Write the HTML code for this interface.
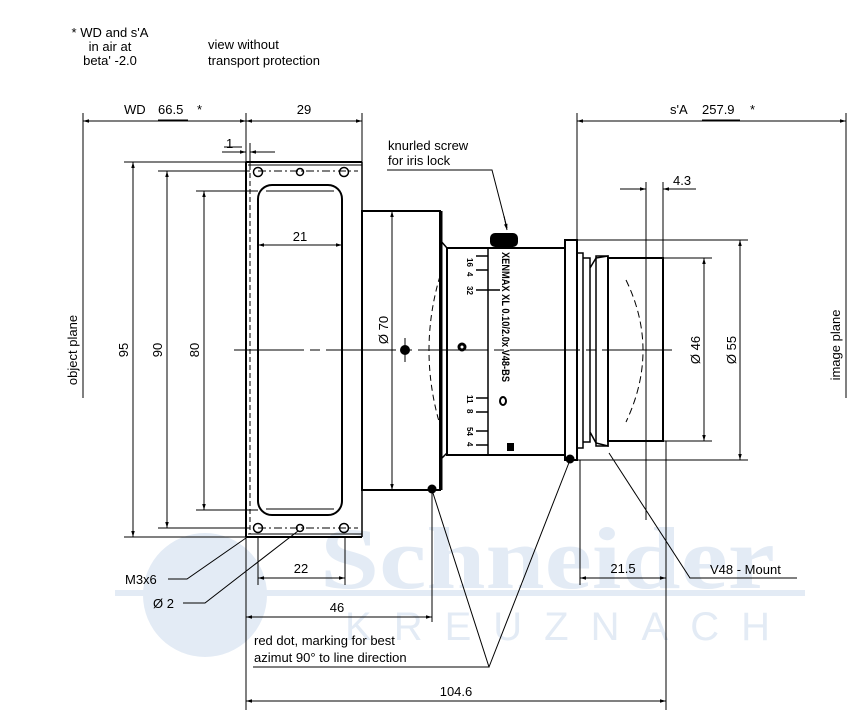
<!DOCTYPE html>
<html><head><meta charset="utf-8"><style>
html,body{margin:0;padding:0;background:#fff;}
svg{display:block;font-family:"Liberation Sans",Arial,sans-serif;}
</style></head><body>
<svg width="866" height="722" viewBox="0 0 866 722" xmlns="http://www.w3.org/2000/svg">
<defs>
<marker id="a" viewBox="0 0 12 10" refX="12" refY="5" markerWidth="11" markerHeight="5" orient="auto-start-reverse" markerUnits="userSpaceOnUse"><path d="M0,1.5 L12,5 L0,8.5z" fill="#000"/></marker>
</defs>
<!-- watermark -->
<g fill="#e3ebf5" stroke="none">
<circle cx="205" cy="595" r="62"/>
<rect x="115" y="590" width="690" height="6"/>
<text x="320" y="588" font-family="Liberation Serif,serif" font-weight="bold" font-size="88" textLength="455" lengthAdjust="spacingAndGlyphs">Schneider</text>
<text x="345" y="640" font-size="40" textLength="425" lengthAdjust="spacing">KREUZNACH</text>
</g>
<g font-size="13" fill="#000">
<text x="110" y="37" text-anchor="middle">* WD and s'A</text>
<text x="110" y="51" text-anchor="middle">in air at</text>
<text x="110" y="65" text-anchor="middle">beta' -2.0</text>
<text x="208" y="49">view without</text>
<text x="208" y="65">transport protection</text>
</g>
<g stroke="#000" fill="none" stroke-width="1">
<line x1="83" y1="113" x2="83" y2="398"/>
<line x1="846" y1="113" x2="846" y2="398"/>
<line x1="83" y1="121" x2="246" y2="121" marker-start="url(#a)" marker-end="url(#a)"/>
<line x1="246" y1="121" x2="362" y2="121" marker-start="url(#a)" marker-end="url(#a)"/>
<line x1="246" y1="113" x2="246" y2="710"/>
<line x1="362" y1="113" x2="362" y2="162"/>
<line x1="577" y1="113" x2="577" y2="240"/>
<line x1="577" y1="121" x2="846" y2="121" marker-start="url(#a)" marker-end="url(#a)"/>
<line x1="158" y1="120" x2="188" y2="120"/>
<line x1="702" y1="120" x2="740" y2="120"/>
<line x1="222" y1="152" x2="246" y2="152" marker-end="url(#a)"/>
<line x1="250" y1="152" x2="275" y2="152" marker-start="url(#a)"/>
<line x1="224" y1="147" x2="242" y2="147"/>
<line x1="250" y1="143" x2="250" y2="165"/>
<line x1="246" y1="162" x2="362" y2="162" stroke-width="2"/>
<line x1="248" y1="165" x2="362" y2="165"/>
<line x1="246" y1="162" x2="246" y2="537" stroke-width="2"/>
<line x1="362" y1="162" x2="362" y2="537" stroke-width="1.5"/>
<line x1="246" y1="537" x2="362" y2="537" stroke-width="2"/>
<line x1="248" y1="534" x2="362" y2="534"/>
<line x1="250" y1="165" x2="250" y2="534" stroke-dasharray="5,3"/>
<rect x="258" y="185" width="84" height="330" rx="14" stroke-width="2"/>
<line x1="266" y1="191" x2="334" y2="191"/>
<line x1="266" y1="509" x2="334" y2="509"/>
<line x1="258" y1="171" x2="358" y2="171" stroke-dasharray="8,3,2,3"/>
<line x1="258" y1="528" x2="358" y2="528" stroke-dasharray="8,3,2,3"/>
<circle cx="258" cy="172" r="4.5" stroke-width="1.5"/><circle cx="300" cy="172" r="3.5" stroke-width="1.5"/><circle cx="344" cy="172" r="4.5" stroke-width="1.5"/>
<circle cx="258" cy="528" r="4.5" stroke-width="1.5"/><circle cx="300" cy="528" r="3.5" stroke-width="1.5"/><circle cx="344" cy="528" r="4.5" stroke-width="1.5"/>
<line x1="258" y1="537" x2="258" y2="585"/>
<line x1="345" y1="537" x2="345" y2="585"/>
<line x1="258" y1="245" x2="342" y2="245" marker-start="url(#a)" marker-end="url(#a)"/>
<line x1="124" y1="162" x2="246" y2="162"/>
<line x1="124" y1="537" x2="246" y2="537"/>
<line x1="133" y1="162" x2="133" y2="537" marker-start="url(#a)" marker-end="url(#a)"/>
<line x1="158" y1="171" x2="250" y2="171"/>
<line x1="158" y1="528" x2="250" y2="528"/>
<line x1="167" y1="171" x2="167" y2="528" marker-start="url(#a)" marker-end="url(#a)"/>
<line x1="196" y1="191" x2="258" y2="191"/>
<line x1="196" y1="510" x2="258" y2="510"/>
<line x1="204" y1="191" x2="204" y2="510" marker-start="url(#a)" marker-end="url(#a)"/>
<rect x="362" y="211" width="78" height="279" stroke-width="2"/>
<line x1="392" y1="211" x2="392" y2="490" marker-start="url(#a)" marker-end="url(#a)"/>
<path d="M440 240 L447 248 M440 460 L447 453" stroke-width="1.5"/>
<line x1="441" y1="211" x2="441" y2="490" stroke-width="3"/>
<path d="M440 276 Q418 350 440 425" stroke-dasharray="6,4"/>
<rect x="447" y="248" width="118" height="207" stroke-width="2"/>
<line x1="488" y1="248" x2="488" y2="455" stroke-width="1.5"/>
<g stroke-width="1.5">
<line x1="476" y1="256" x2="488" y2="256"/><line x1="476" y1="270" x2="488" y2="270"/><line x1="476" y1="290" x2="500" y2="290"/>
<line x1="476" y1="398" x2="488" y2="398"/><line x1="476" y1="412" x2="488" y2="412"/><line x1="476" y1="431" x2="488" y2="431"/><line x1="476" y1="445" x2="488" y2="445"/>
</g>
<ellipse cx="503" cy="401" rx="3" ry="4" stroke-width="2"/>
<rect x="565" y="240" width="12" height="220" stroke-width="2"/>
<path d="M577 253 L583 253 L583 448 L577 448 M583 258 L590 258 L590 442 L583 442 M590 268 L596 258 L608 256 L608 446 L596 443 L590 432" stroke-width="1.5"/>
<rect x="596" y="256" width="12" height="190" stroke-width="1.5"/>
<rect x="608" y="258" width="55" height="183" stroke-width="2"/>
<path d="M626 280 Q660 350 626 422" stroke-dasharray="7,4"/>
<line x1="646" y1="182" x2="646" y2="520"/>
<line x1="663" y1="182" x2="663" y2="258"/>
<line x1="620" y1="189" x2="646" y2="189" marker-end="url(#a)"/>
<line x1="663" y1="189" x2="696" y2="189" marker-start="url(#a)"/>
<line x1="666" y1="441" x2="666" y2="710"/>
<line x1="663" y1="258" x2="712" y2="258"/><line x1="663" y1="441" x2="712" y2="441"/>
<line x1="704" y1="258" x2="704" y2="441" marker-start="url(#a)" marker-end="url(#a)"/>
<line x1="577" y1="240" x2="748" y2="240"/><line x1="577" y1="460" x2="748" y2="460"/>
<line x1="740" y1="240" x2="740" y2="460" marker-start="url(#a)" marker-end="url(#a)"/>
<line x1="234" y1="350" x2="672" y2="350" stroke-dasharray="70,6,10,6"/>
<line x1="405" y1="338" x2="405" y2="346"/><line x1="405" y1="354" x2="405" y2="362"/>
<path d="M387 170 L492 170 L507 228" />
<line x1="504" y1="216" x2="507" y2="230" marker-end="url(#a)"/>
<line x1="258" y1="578" x2="345" y2="578" marker-start="url(#a)" marker-end="url(#a)"/>
<line x1="432" y1="490" x2="432" y2="622"/>
<line x1="246" y1="617" x2="432" y2="617" marker-start="url(#a)" marker-end="url(#a)"/>
<line x1="580" y1="460" x2="580" y2="585"/>
<line x1="580" y1="578" x2="666" y2="578" marker-start="url(#a)" marker-end="url(#a)"/>
<line x1="246" y1="701" x2="666" y2="701" marker-start="url(#a)" marker-end="url(#a)"/>
<path d="M168 579 L187 579 L246 538"/>
<path d="M183 603 L205 603 L298 531"/>
<path d="M253 667 L489 667 L432 490 M489 667 L570 460"/>
<path d="M797 578 L690 578 L609 453"/>
</g>
<rect x="490" y="233" width="28" height="14" rx="5" fill="#000"/>
<circle cx="405" cy="350" r="5" fill="#000"/>
<circle cx="462" cy="347" r="4.5" fill="#000"/><circle cx="462" cy="347" r="1.5" fill="#fff"/>
<circle cx="432" cy="489" r="4.5" fill="#000"/>
<circle cx="570" cy="459" r="4.5" fill="#000"/>
<rect x="507" y="443" width="7" height="8" fill="#000"/>
<g font-size="8" font-weight="bold" fill="#000">
<text transform="translate(467,258) rotate(90)">16</text>
<text transform="translate(467,272) rotate(90)">4</text>
<text transform="translate(467,286) rotate(90)">32</text>
<text transform="translate(467,395) rotate(90)">11</text>
<text transform="translate(467,409) rotate(90)">8</text>
<text transform="translate(467,427) rotate(90)">54</text>
<text transform="translate(467,442) rotate(90)">4</text>
</g>
<text transform="translate(502,252) rotate(90)" font-size="11" font-weight="bold" textLength="130" lengthAdjust="spacingAndGlyphs">XENMAX XL 0.10/2.0x V48-BS</text>
<g font-size="13" fill="#000">
<text x="124" y="114">WD</text>
<text x="158" y="114">66.5</text>
<text x="197" y="114">*</text>
<text x="304" y="114" text-anchor="middle">29</text>
<text x="226" y="148">1</text>
<text x="670" y="114">s'A</text>
<text x="702" y="114">257.9</text>
<text x="750" y="114">*</text>
<text x="388" y="150">knurled screw</text>
<text x="388" y="165">for iris lock</text>
<text x="673" y="185">4.3</text>
<text x="300" y="241" text-anchor="middle">21</text>
<text transform="translate(128,350) rotate(-90)" text-anchor="middle">95</text>
<text transform="translate(162,350) rotate(-90)" text-anchor="middle">90</text>
<text transform="translate(199,350) rotate(-90)" text-anchor="middle">80</text>
<text transform="translate(388,330) rotate(-90)" text-anchor="middle">Ø 70</text>
<text transform="translate(700,350) rotate(-90)" text-anchor="middle">Ø 46</text>
<text transform="translate(736,350) rotate(-90)" text-anchor="middle">Ø 55</text>
<text transform="translate(77,350) rotate(-90)" text-anchor="middle">object plane</text>
<text transform="translate(840,345) rotate(-90)" text-anchor="middle">image plane</text>
<text x="301" y="573" text-anchor="middle">22</text>
<text x="623" y="573" text-anchor="middle">21.5</text>
<text x="710" y="574">V48 - Mount</text>
<text x="125" y="584">M3x6</text>
<text x="153" y="608">Ø 2</text>
<text x="337" y="612" text-anchor="middle">46</text>
<text x="254" y="645">red dot, marking for best</text>
<text x="254" y="662">azimut 90° to line direction</text>
<text x="456" y="696" text-anchor="middle">104.6</text>
</g>
</svg>
</body></html>
